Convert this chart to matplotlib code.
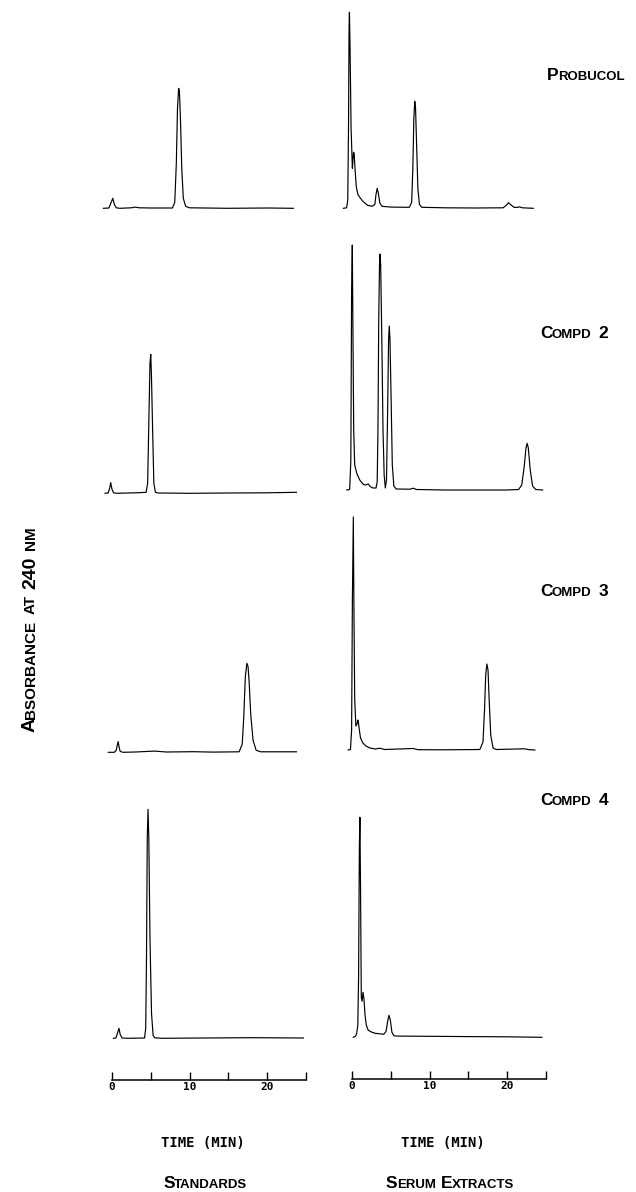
"""
HPLC chromatograms: standards vs serum extracts for probucol and compounds 2-4.
Absorbance at 240 nm against retention time (min).
"""
import matplotlib
matplotlib.use('Agg')
import matplotlib.pyplot as plt

W, H = 636, 1192

# ---- Data: time (min), relative absorbance ----

probucol_std_t = [-1.1, -0.4, -0.15, 0.1, 0.3, 0.55, 1.0, 2.5, 3.0, 3.5, 5.0, 7.8, 8.1,
                  8.3, 8.45, 8.6, 8.7, 8.85, 9.0, 9.2, 9.5, 10.0, 15.0, 20.0, 23.4]
probucol_std_a = [0, 0.3, 5, 10, 4, 0.5, 0, 0.5, 1.2, 0.5, 0.3, 0.3, 6,
                  45, 100, 120, 117, 85, 40, 10, 2, 0.5, 0, 0.3, 0]

probucol_ser_t = [-1.1, -0.7, -0.55, -0.45, -0.38, -0.33, -0.25, -0.12, 0.05, 0.12, 0.2,
                  0.28, 0.4, 0.55, 0.75, 1.0, 1.4, 2.0, 2.6, 2.95, 3.1, 3.25, 3.4, 3.6,
                  3.9, 5.0, 7.4, 7.7, 7.85, 7.98, 8.1, 8.2, 8.35, 8.5, 8.7, 9.0, 12.0,
                  16.0, 19.5, 19.9, 20.2, 20.5, 20.9, 21.3, 21.6, 22.0, 23.4]
probucol_ser_a = [0, 0.5, 8, 80, 180, 196, 160, 80, 40, 48, 56,
                  55, 38, 22, 14, 11, 7, 3, 2, 4, 14, 20, 15, 5,
                  2, 1.2, 1, 6, 40, 90, 107, 100, 60, 20, 4, 1, 0.5,
                  0.3, 0.5, 3, 5.6, 3.5, 1, 0.8, 1.5, 0.5, 0]

compd2_std_t = [-0.9, -0.5, -0.3, -0.17, 0.0, 0.2, 0.6, 2.0, 3.5, 4.4, 4.6, 4.75,
                4.9, 5.0, 5.1, 5.25, 5.4, 5.6, 6.0, 10, 15, 20, 23.8]
compd2_std_a = [0, 0.3, 5, 10.7, 4, 0.5, 0, 0.3, 0.6, 1, 10, 70,
                130, 139, 115, 60, 10, 1, 0.3, 0, 0.3, 0.5, 1]

compd2_ser_t = [-0.68, -0.3, -0.15, -0.05, 0.04, 0.12, 0.22, 0.35, 0.6, 1.0, 1.4, 1.7,
                1.9, 2.1, 2.35, 2.7, 3.1, 3.25, 3.35, 3.45, 3.55, 3.61, 3.7, 3.85,
                4.0, 4.15, 4.3, 4.45, 4.6, 4.72, 4.81, 4.9, 5.05, 5.2, 5.4, 5.7,
                7.5, 7.9, 8.3, 12, 16, 20, 21.5, 21.9, 22.2, 22.45, 22.6, 22.75,
                23.0, 23.3, 23.7, 24.6]
compd2_ser_a = [0, 0.5, 30, 200, 245, 160, 60, 25, 17, 10, 6, 5,
                5.5, 6, 3.5, 2, 2, 8, 60, 170, 225, 236, 225, 150,
                60, 15, 2, 10, 80, 150, 164, 150, 90, 25, 4, 1,
                0.8, 1.8, 0.5, 0, 0, 0, 0.5, 5, 22, 42, 46.7, 42,
                20, 4, 0.5, 0]

compd3_std_t = [-0.48, 0.3, 0.55, 0.7, 0.8, 0.9, 1.05, 1.4, 3.0, 5.5, 7.0, 10.5, 13.0,
                16.4, 16.8, 17.0, 17.2, 17.4, 17.55, 17.7, 17.9, 18.2, 18.6, 19.2, 23.8]
compd3_std_a = [0, 0, 2, 8, 10.7, 6, 1, 0, 0.3, 1.2, 0.3, 0.6, 0.2,
                0.5, 8, 35, 75, 89, 86, 70, 38, 12, 2, 0.5, 0.5]

compd3_ser_t = [-0.48, -0.2, -0.05, 0.05, 0.17, 0.25, 0.35, 0.5, 0.65, 0.75, 0.82, 0.95,
                1.1, 1.4, 1.8, 2.3, 3.0, 3.6, 4.2, 7.9, 8.5, 12, 16.5, 16.9, 17.1,
                17.25, 17.4, 17.55, 17.7, 17.9, 18.2, 18.6, 22.3, 22.8, 23.6]
compd3_ser_a = [0, 0.5, 20, 150, 233, 140, 50, 24, 26, 30, 28, 20,
                12, 7, 4, 2, 1, 1.8, 0.5, 1.5, 0.3, 0.2, 0.5, 8, 40,
                75, 86, 80, 50, 15, 2, 0.5, 1.2, 0.4, 0]

compd4_std_t = [0.17, 0.5, 0.7, 0.9, 1.05, 1.3, 2.0, 4.2, 4.35, 4.45, 4.55, 4.65,
                4.75, 4.9, 5.1, 5.3, 5.5, 6.5, 12, 18, 24.7]
compd4_std_a = [0, 0.3, 5, 10, 4, 0.3, 0, 0.3, 10, 80, 200, 229,
                200, 100, 25, 3, 0.5, 0, 0.3, 0.6, 0.3]

compd4_ser_t = [0.17, 0.45, 0.6, 0.75, 0.85, 0.95, 1.02, 1.1, 1.2, 1.3, 1.42, 1.55, 1.68,
                1.85, 2.1, 2.6, 3.0, 3.6, 4.1, 4.4, 4.6, 4.77, 4.95, 5.15, 5.4, 6.0,
                10, 15, 20, 24.5]
compd4_ser_a = [0, 1, 4, 12, 60, 190, 220, 150, 40, 36, 45, 38, 22,
                12, 7, 5, 4, 3.5, 3, 6, 16, 22, 17, 5, 1.5, 1.2,
                1, 0.7, 0.5, 0]

time_ticks = [0, 5, 10, 15, 20, 25]
time_labels = ['0', '', '10', '', '20', '']

traces = [
    (probucol_std_t, probucol_std_a, probucol_ser_t, probucol_ser_a),
    (compd2_std_t, compd2_std_a, compd2_ser_t, compd2_ser_a),
    (compd3_std_t, compd3_std_a, compd3_ser_t, compd3_ser_a),
    (compd4_std_t, compd4_std_a, compd4_ser_t, compd4_ser_a),
]

# ---- Layout (pixels) ----
COL_T0 = [112, 352]            # x pixel of t = 0 in each column
PX_PER_MIN = 7.75
ROW_BASE = [(208.3, 208.3), (493.3, 490.0), (752.3, 750.0), (1038.3, 1037.3)]
XLIM = (-2.0, 25.5)
YLIM = (-5, 250)               # one unit = one pixel
AXIS_Y = [1080, 1079]

LABEL_FONT = 'Liberation Sans'
MONO_FONT = 'DejaVu Sans Mono'
BIG, SMALL = 12.5, 9.5


def px_axes(fig, x0, base, ylim=YLIM):
    left = x0 + XLIM[0] * PX_PER_MIN
    width = (XLIM[1] - XLIM[0]) * PX_PER_MIN
    bottom = base - ylim[0]
    height = ylim[1] - ylim[0]
    ax = fig.add_axes([left / W, 1 - bottom / H, width / W, height / H])
    ax.set_xlim(*XLIM)
    ax.set_ylim(*ylim)
    ax.patch.set_visible(False)
    return ax


def smallcaps(fig, x, y, parts, ha='left', rotation=0, big=BIG, small=SMALL, space=6.0):
    """Fake small caps: parts = list of (text, is_big) or None for a word gap."""
    renderer = fig.canvas.get_renderer()
    items = []
    for p in parts:
        if p is None:
            items.append((None, space))
            continue
        s, is_big = p
        t = fig.text(0, 0, s, fontsize=big if is_big else small, fontfamily=LABEL_FONT,
                     fontweight='bold', ha='left', va='baseline', rotation=rotation,
                     rotation_mode='anchor')
        bb = t.get_window_extent(renderer)
        items.append((t, bb.height if rotation else bb.width))
    gap = -0.8
    total = sum(w for _, w in items) + gap * (len(items) - 1)
    pos = x if not rotation else y
    if ha == 'center':
        pos = pos - total / 2 if not rotation else pos + total / 2
    for t, w in items:
        if t is not None:
            if rotation:
                t.set_position((x / W, 1 - pos / H))
            else:
                t.set_position((pos / W, 1 - y / H))
        pos = pos + (w + gap) * (-1 if rotation else 1)


fig = plt.figure(figsize=(W / 100, H / 100), dpi=100)

for r, (st, sa, et, ea) in enumerate(traces):
    for c, (tt, aa) in enumerate([(st, sa), (et, ea)]):
        ax = px_axes(fig, COL_T0[c], ROW_BASE[r][c])
        ax.plot(tt, aa, color='black', lw=0.85, solid_joinstyle='round')
        ax.axis('off')

# time axes
for c in range(2):
    ax = px_axes(fig, COL_T0[c], AXIS_Y[c], ylim=(0, 20))
    for side in ['top', 'left', 'right']:
        ax.spines[side].set_visible(False)
    ax.spines['bottom'].set_bounds(0, 25)
    ax.spines['bottom'].set_linewidth(1.1)
    ax.set_yticks([])
    ax.set_xticks(time_ticks)
    ax.set_xticklabels(time_labels, fontfamily=MONO_FONT, fontweight='bold', fontsize=8)
    ax.tick_params(axis='x', direction='in', length=6, width=1.0, pad=1.5)
    fig.text((COL_T0[c] + 12.5 * PX_PER_MIN - 6) / W, 1 - 1143 / H, 'TIME (MIN)',
             fontfamily=MONO_FONT, fontweight='bold', fontsize=10, ha='center', va='center')

# column titles
smallcaps(fig, 205, 1188, [('S', True), ('TANDARDS', False)], ha='center')
smallcaps(fig, 450, 1188, [('S', True), ('ERUM', False), None, ('E', True),
                           ('XTRACTS', False)], ha='center', space=7.0)

# compound labels
smallcaps(fig, 547, 80, [('P', True), ('ROBUCOL', False)])
for name, y in [('2', 338), ('3', 596), ('4', 805)]:
    smallcaps(fig, 540, y, [('C', True), ('OMPD', False), None, (name, True)], space=9.0)

# y label
smallcaps(fig, 35, 629, [('A', True), ('BSORBANCE', False), None, ('AT', False), None,
                         ('240', True), None, ('NM', False)], ha='center', rotation=90,
          big=14, small=11, space=8.0)

fig.savefig('out.png', dpi=100)
